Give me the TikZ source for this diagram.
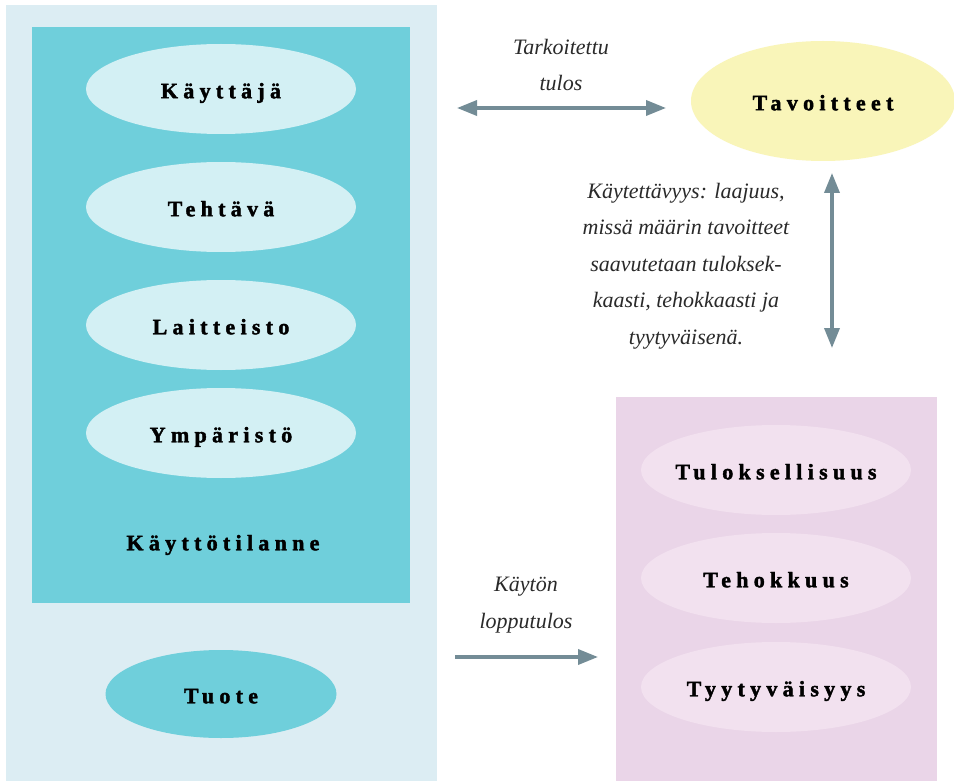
\documentclass[tikz,border=0pt]{standalone}
\usepackage{fontspec}
\setmainfont{Liberation Serif}
\newfontfamily\heavy[LetterSpace=24,FakeBold=1.8]{Liberation Serif}
\usetikzlibrary{shapes.geometric,arrows.meta}
\definecolor{outerbg}{HTML}{DCEDF3}
\definecolor{teal}{HTML}{6FCFDB}
\definecolor{lightell}{HTML}{D3F0F4}
\definecolor{yell}{HTML}{F9F5B9}
\definecolor{pinkbg}{HTML}{EAD5E8}
\definecolor{pinkell}{HTML}{F2E1EF}
\definecolor{arrowc}{HTML}{738C96}
\definecolor{txt}{HTML}{2A2A2A}
\tikzset{
  headfont/.style={font=\heavy\bfseries\fontsize{22}{24}\selectfont,text=black,
    inner sep=0pt,text height=14.5pt,text depth=0pt},
  ell/.style={ellipse,draw=none,inner sep=0pt,minimum width=270pt,minimum height=90pt},
  lbl/.style={align=center,inner sep=0pt,text=txt,font=\itshape\fontsize{22}{36.5}\selectfont},
  conn/.style={draw=arrowc,line width=3.5pt,{Triangle[length=20pt,width=15pt]}-{Triangle[length=20pt,width=15pt]}},
  conn1/.style={draw=arrowc,line width=3.5pt,-{Triangle[length=20pt,width=15pt]}}
}
\newcommand{\ellnode}[5][]{%
  \node[ell,fill=#3,#1] (#2) at (#4) {};
  \node[headfont,yshift=-2pt] (#2-t) at (#2.center) {#5};
}
\begin{document}
\begin{tikzpicture}[x=1pt,y=-1pt]
\useasboundingbox (0,0) rectangle (954,781);
\fill[white] (0,0) rectangle (954,781);
% left panel
\fill[outerbg] (6,5) rectangle (437,781);
\fill[teal] (32,27) rectangle (410,603);
\ellnode{kayttaja}{lightell}{221,89}{Käyttäjä}
\ellnode{tehtava}{lightell}{221,207}{Tehtävä}
\ellnode{laitteisto}{lightell}{221,325}{Laitteisto}
\ellnode{ymparisto}{lightell}{221,433}{Ympäristö}
\node[headfont] (kayttotilanne) at (223,543) {Käyttötilanne};
\ellnode[minimum width=231pt,minimum height=88pt]{tuote}{teal}{221,694}{Tuote}
% goals
\ellnode[minimum width=264pt,minimum height=120pt]{tavoitteet}{yell}{823,101}{Tavoitteet}
% right panel
\fill[pinkbg] (616,397) rectangle (937,781);
\ellnode{tulos}{pinkell}{776,470}{Tuloksellisuus}
\ellnode{tehokkuus}{pinkell}{776,578}{Tehokkuus}
\ellnode{tyyty}{pinkell}{776,687}{Tyytyväisyys}
% connectors
\coordinate (a1) at (457,108);
\coordinate (a2) at (666,108);
\draw[conn] (a1) -- (a2);
\node[lbl] (l1) at (561,65) {Tarkoitettu\\tulos};
\coordinate (b1) at (832,173);
\coordinate (b2) at (832,348);
\draw[conn] (b1) -- (b2);
\node[lbl] (l2) at (686,266) {Käytettävyys: laajuus,\\missä määrin tavoitteet\\saavutetaan tuloksek-\\kaasti, tehokkaasti ja\\tyytyväisenä.};
\coordinate (c1) at (455,657);
\coordinate (c2) at (598,657);
\draw[conn1] (c1) -- (c2);
\node[lbl] (l3) at (526,605) {Käytön\\lopputulos};
\end{tikzpicture}
\end{document}
